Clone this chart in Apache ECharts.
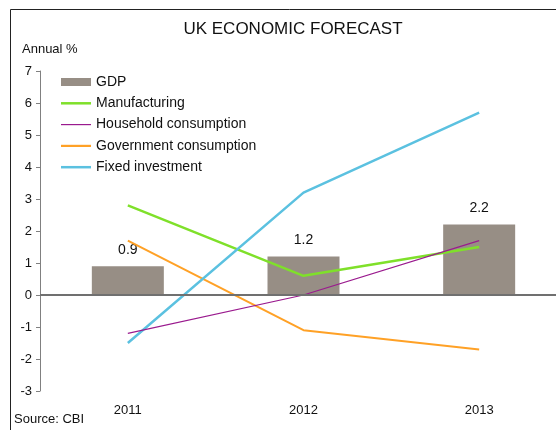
<!DOCTYPE html>
<html>
<head>
<meta charset="utf-8">
<script src="https://cdn.jsdelivr.net/npm/echarts@6/dist/echarts.min.js"></script>
<style>
  html, body { margin: 0; padding: 0; background: #fff; overflow: hidden; }
  #chart { width: 567px; height: 430px; }
</style>
</head>
<body>
<div id="chart"></div>
<script>
var years = ['2011', '2012', '2013'];
var gdp = [0.9, 1.2, 2.2];
var manufacturing = [2.8, 0.6, 1.5];
var household = [-1.2, 0.0, 1.7];
var government = [1.7, -1.1, -1.7];
var fixedInvestment = [-1.5, 3.2, 5.7];

var font = 'Liberation Sans, Arial, sans-serif';
var chart = echarts.init(document.getElementById('chart'));

// the plot area runs past the right edge of the window, as in the original
var option = {
    animation: false,
    textStyle: { fontFamily: font },
    graphic: [
        { type: 'rect', shape: { x: 10.5, y: 9.5, width: 700, height: 600 },
          style: { fill: 'none', stroke: '#222', lineWidth: 1 }, silent: true },
        { type: 'text', x: 293, y: 21,
          style: { text: 'UK ECONOMIC FORECAST', font: '17px ' + font, fill: '#111', textAlign: 'center' } },
        { type: 'text', left: 22, top: 43,
          style: { text: 'Annual %', font: '13px ' + font, fill: '#111' } },
        { type: 'text', left: 14, top: 413,
          style: { text: 'Source: CBI', font: '13px ' + font, fill: '#111' } }
    ],
    legend: {
        orient: 'vertical',
        left: 56, top: 70,
        itemWidth: 30, itemHeight: 14, itemGap: 7.3,
        textStyle: { fontSize: 14, color: '#111', fontFamily: font },
        data: [
            { name: 'GDP', icon: 'path://M0,0H30V8H0Z' },
            { name: 'Manufacturing', icon: 'path://M0,0H30V2.5H0Z' },
            { name: 'Household consumption', icon: 'path://M0,0H30V1.2H0Z' },
            { name: 'Government consumption', icon: 'path://M0,0H30V2.2H0Z' },
            { name: 'Fixed investment', icon: 'path://M0,0H30V2.5H0Z' }
        ]
    },
    grid: { left: 40, top: 71, right: 0, height: 320 },
    xAxis: {
        type: 'category',
        data: years,
        axisLine: { show: false },
        axisTick: { show: false },
        axisLabel: { fontSize: 13, color: '#111', margin: 13 }
    },
    yAxis: {
        type: 'value',
        min: -3, max: 7, interval: 1,
        axisLine: { show: true, lineStyle: { color: '#808080', width: 1 } },
        axisTick: { show: true, length: 4, lineStyle: { color: '#808080' } },
        axisLabel: { fontSize: 13, color: '#111', margin: 8 },
        splitLine: { show: false }
    },
    series: [
        {
            name: 'GDP', type: 'bar', data: gdp, barWidth: 72,
            itemStyle: { color: '#978e85' },
            label: { show: true, position: 'top', distance: 9, fontSize: 14, color: '#111' },
            markLine: {
                silent: true, symbol: 'none', label: { show: false },
                lineStyle: { color: '#707070', width: 2, type: 'solid' },
                data: [{ yAxis: 0 }]
            },
            z: 1
        },
        {
            name: 'Manufacturing', type: 'line', data: manufacturing,
            symbol: 'none', lineStyle: { color: '#7fe02a', width: 2.5 },
            itemStyle: { color: '#7fe02a' }, z: 3
        },
        {
            name: 'Household consumption', type: 'line', data: household,
            symbol: 'none', lineStyle: { color: '#9a1a8e', width: 1.2 },
            itemStyle: { color: '#9a1a8e' }, z: 4
        },
        {
            name: 'Government consumption', type: 'line', data: government,
            symbol: 'none', lineStyle: { color: '#ffa126', width: 2 },
            itemStyle: { color: '#ffa126' }, z: 3
        },
        {
            name: 'Fixed investment', type: 'line', data: fixedInvestment,
            symbol: 'none', lineStyle: { color: '#5bc1e0', width: 2.5 },
            itemStyle: { color: '#5bc1e0' }, z: 3
        }
    ]
};
chart.setOption(option);
</script>
</body>
</html>
